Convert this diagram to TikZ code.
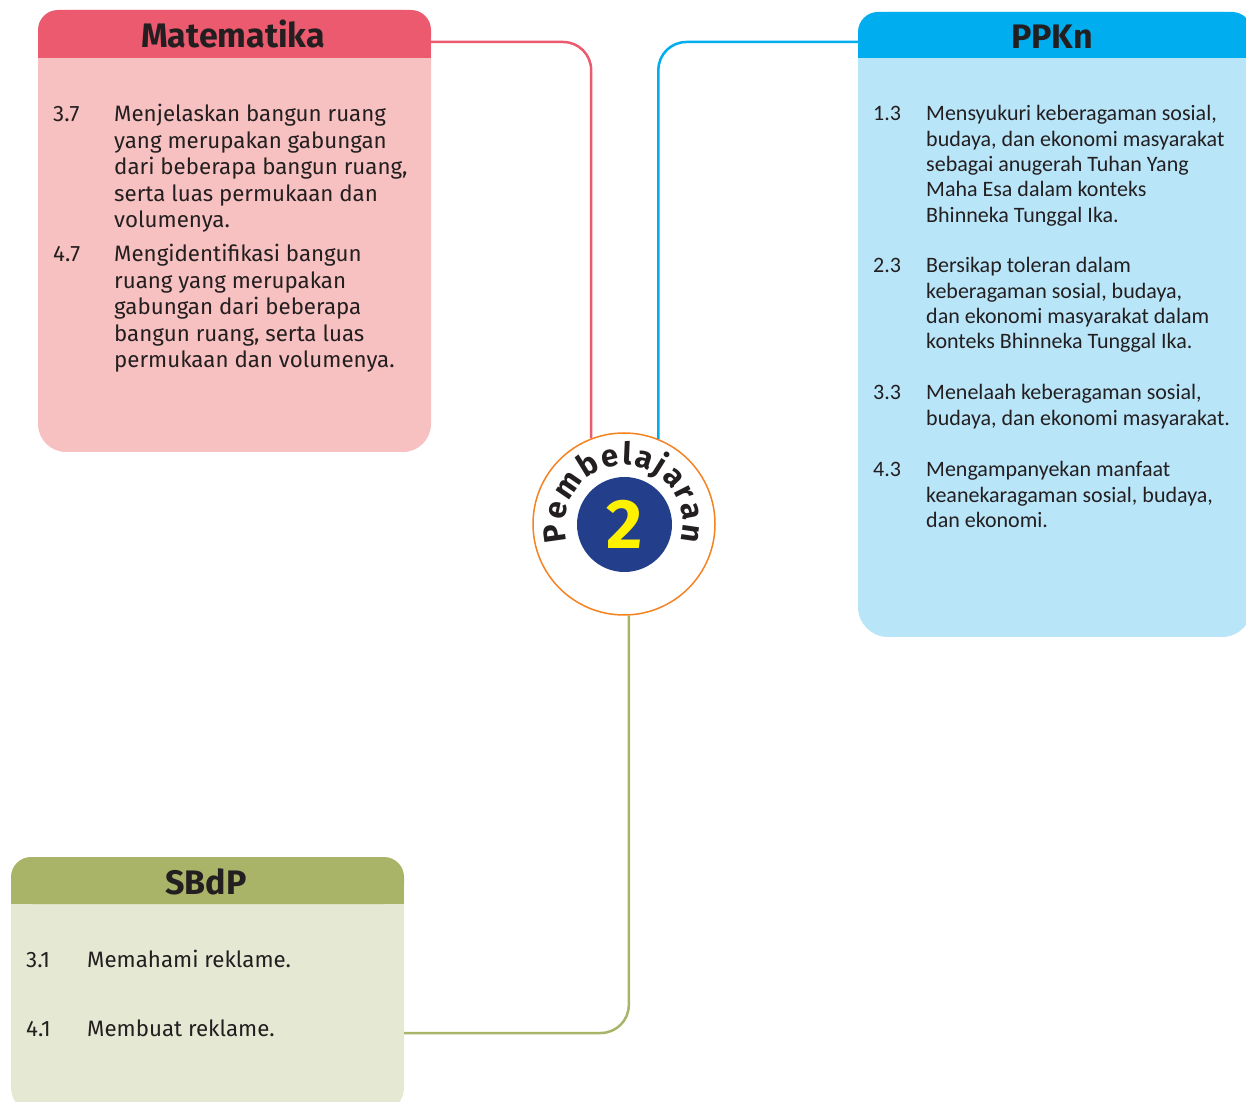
\documentclass[tikz,border=0pt]{standalone}
\usepackage{fontspec}
\setmainfont{Fira Sans}
\newfontfamily\ppkfont{Carlito}
\usetikzlibrary{decorations.text}
\definecolor{txt}{HTML}{231F20}
\definecolor{mathd}{HTML}{EB5A6E}
\definecolor{matbd}{HTML}{F8C1C1}
\definecolor{ppkhd}{HTML}{00AEEF}
\definecolor{ppkbd}{HTML}{B9E5F9}
\definecolor{sbhd}{HTML}{A9B468}
\definecolor{sbbd}{HTML}{E5E9D3}
\definecolor{ring}{HTML}{F58220}
\definecolor{navy}{HTML}{233F8C}
\definecolor{yel}{HTML}{FFF200}
\newcommand{\lmlines}[1]{\vtop{\hsize=420pt\parindent=0pt\leftskip=0pt\rightskip=0pt plus 1fil #1\par}}
\begin{document}
\begin{tikzpicture}[x=1pt,y=1pt,
  mattxt/.style={anchor=base west, inner sep=0pt, text=txt, font=\fontsize{22.3}{26.5}\selectfont},
  ppktxt/.style={anchor=base west, inner sep=0pt, text=txt, font=\ppkfont\fontsize{22}{25.3}\selectfont},
  headtxt/.style={anchor=base, inner sep=0pt, text=txt, font=\bfseries\fontsize{34}{34}\selectfont},
  conn/.style={line width=2.5pt, rounded corners=28pt}]
\useasboundingbox (0,0) rectangle (1246,1101);
\clip (0,0) rectangle (1246,1101);
% ---------- Matematika box
\fill[matbd, rounded corners=28pt] (38,649) rectangle (431,1091);
\fill[mathd, rounded corners=20pt] (38,1043) rectangle (431,1091);
\fill[mathd] (38,1043) rectangle (431,1070);
\node[headtxt] (mathead) at (233,1053) {Matematika};
\node[mattxt] (m37n) at (53,979) {3.7};
\node[mattxt] (m37t) at (114,979) {\lmlines{Menjelaskan bangun ruang\\yang merupakan gabungan\\dari beberapa bangun ruang,\\serta luas permukaan dan\\volumenya.}};
\node[mattxt] (m47n) at (53,839) {4.7};
\node[mattxt] (m47t) at (114,839) {\lmlines{Mengidentifikasi bangun\\ruang yang merupakan\\gabungan dari beberapa\\bangun ruang, serta luas\\permukaan dan volumenya.}};
% ---------- PPKn box
\fill[ppkbd, rounded corners=30pt] (858,464) rectangle (1252,1089);
\fill[ppkhd, rounded corners=20pt] (858,1043) rectangle (1252,1089);
\fill[ppkhd] (858,1043) rectangle (1252,1070);
\node[headtxt] (ppkhead) at (1052,1052) {PPKn};
\node[ppktxt] (p13n) at (873,980) {1.3};
\node[ppktxt] (p13t) at (926,980) {\lmlines{Mensyukuri keberagaman sosial,\\budaya, dan ekonomi masyarakat\\sebagai anugerah Tuhan Yang\\Maha Esa dalam konteks\\Bhinneka Tunggal Ika.}};
\node[ppktxt] (p23n) at (873,828) {2.3};
\node[ppktxt] (p23t) at (926,828) {\lmlines{Bersikap toleran dalam\\keberagaman sosial, budaya,\\dan ekonomi masyarakat dalam\\konteks Bhinneka Tunggal Ika.}};
\node[ppktxt] (p33n) at (873,701) {3.3};
\node[ppktxt] (p33t) at (926,701) {\lmlines{Menelaah keberagaman sosial,\\budaya, dan ekonomi masyarakat.}};
\node[ppktxt] (p43n) at (873,624) {4.3};
\node[ppktxt] (p43t) at (926,624) {\lmlines{Mengampanyekan manfaat\\keanekaragaman sosial, budaya,\\dan ekonomi.}};
% ---------- SBdP box
\fill[sbbd, rounded corners=28pt] (11,-14) rectangle (404,244);
\fill[sbhd, rounded corners=20pt] (11,197) rectangle (404,244);
\fill[sbhd] (11,197) rectangle (404,222);
\node[headtxt] (sbhead) at (206,207) {SBdP};
\node[mattxt] (s31n) at (26,134) {3.1};
\node[mattxt] (s31t) at (87,134) {Memahami reklame.};
\node[mattxt] (s41n) at (26,65) {4.1};
\node[mattxt] (s41t) at (87,65) {Membuat reklame.};
% ---------- centre
\node[circle, draw=ring, line width=1.5pt, fill=white, minimum size=182pt, inner sep=0pt] (circ) at (624,577) {};
\coordinate (matc) at (431,1059);
\coordinate (ppkc) at (858,1059);
\coordinate (sbc) at (404,68);
\draw[conn, draw=mathd] (matc) -| (circ.111.26);
\draw[conn, draw=ppkhd] (ppkc) -| (circ.68.06);
\draw[conn, draw=sbhd] (circ.-87.48) |- (sbc);
\node[circle, fill=navy, minimum size=95pt, inner sep=0pt, text=yel, font=\bfseries\fontsize{70}{70}\selectfont] (num) at (624.5,576.5) {2};
\path[decorate, decoration={text along path, text={|\bfseries\fontsize{31}{31}\selectfont|Pembelajaran}, text color=txt, text align={fit to path}}] (624,577) ++(197:59) arc[start angle=197, end angle=-17, radius=59];
\end{tikzpicture}
\end{document}
